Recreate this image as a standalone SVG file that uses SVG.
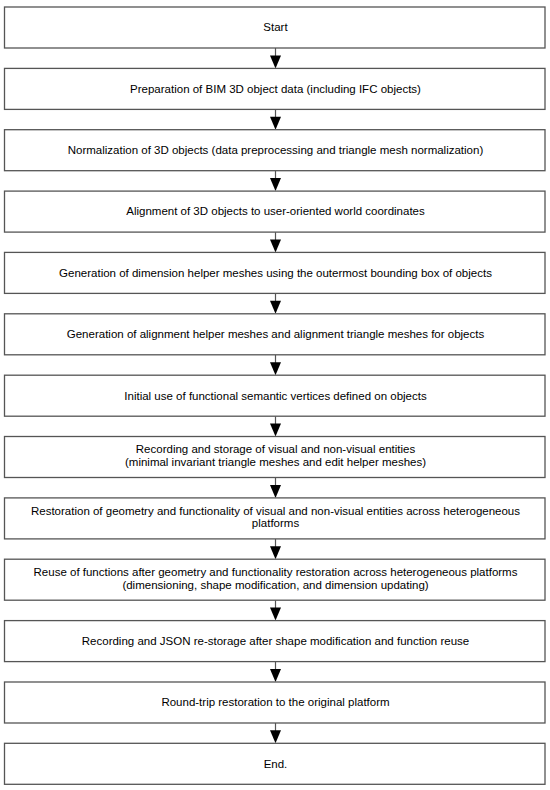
<svg xmlns="http://www.w3.org/2000/svg" width="550" height="790" viewBox="0 0 550 790">
<style>
.box{fill:#fff;stroke:#555;stroke-width:1.3}
.t{font-family:"Liberation Sans",Arial,sans-serif;font-size:11.5px;fill:#000;text-anchor:middle}
.ln{stroke:#555;stroke-width:1.2}
.ah{fill:#000}
</style>
<rect width="550" height="790" fill="#fff"/>
<g id="connectors">
<line class="ln" x1="275.5" y1="48" x2="275.5" y2="58"/><polygon class="ah" points="270,55.4 281,55.4 275.5,68.4"/>
<line class="ln" x1="275.5" y1="109.4" x2="275.5" y2="119"/><polygon class="ah" points="270,116.7 281,116.7 275.5,129.7"/>
<line class="ln" x1="275.5" y1="170.7" x2="275.5" y2="180"/><polygon class="ah" points="270,178.1 281,178.1 275.5,191.1"/>
<line class="ln" x1="275.5" y1="232.1" x2="275.5" y2="242"/><polygon class="ah" points="270,239.4 281,239.4 275.5,252.4"/>
<line class="ln" x1="275.5" y1="293.4" x2="275.5" y2="303"/><polygon class="ah" points="270,300.8 281,300.8 275.5,313.8"/>
<line class="ln" x1="275.5" y1="354.8" x2="275.5" y2="364"/><polygon class="ah" points="270,362.2 281,362.2 275.5,375.2"/>
<line class="ln" x1="275.5" y1="416.2" x2="275.5" y2="426"/><polygon class="ah" points="270,423.5 281,423.5 275.5,436.5"/>
<line class="ln" x1="275.5" y1="477.5" x2="275.5" y2="487"/><polygon class="ah" points="270,484.9 281,484.9 275.5,497.9"/>
<line class="ln" x1="275.5" y1="538.9" x2="275.5" y2="548"/><polygon class="ah" points="270,546.2 281,546.2 275.5,559.2"/>
<line class="ln" x1="275.5" y1="600.2" x2="275.5" y2="610"/><polygon class="ah" points="270,607.6 281,607.6 275.5,620.6"/>
<line class="ln" x1="275.5" y1="661.6" x2="275.5" y2="671"/><polygon class="ah" points="270,669 281,669 275.5,682"/>
<line class="ln" x1="275.5" y1="723" x2="275.5" y2="733"/><polygon class="ah" points="270,730.3 281,730.3 275.5,743.3"/>
</g>
<g id="n0"><rect class="box" x="4.5" y="7" width="540.5" height="41"/><text class="t" x="275.5" y="31.3">Start</text></g>
<g id="n1"><rect class="box" x="4.5" y="68.4" width="540.5" height="41"/><text class="t" x="275.5" y="92.7">Preparation of BIM 3D object data (including IFC objects)</text></g>
<g id="n2"><rect class="box" x="4.5" y="129.7" width="540.5" height="41"/><text class="t" x="275.5" y="154">Normalization of 3D objects (data preprocessing and triangle mesh normalization)</text></g>
<g id="n3"><rect class="box" x="4.5" y="191.1" width="540.5" height="41"/><text class="t" x="275.5" y="215.4">Alignment of 3D objects to user-oriented world coordinates</text></g>
<g id="n4"><rect class="box" x="4.5" y="252.4" width="540.5" height="41"/><text class="t" x="275.5" y="276.7">Generation of dimension helper meshes using the outermost bounding box of objects</text></g>
<g id="n5"><rect class="box" x="4.5" y="313.8" width="540.5" height="41"/><text class="t" x="275.5" y="338.1">Generation of alignment helper meshes and alignment triangle meshes for objects</text></g>
<g id="n6"><rect class="box" x="4.5" y="375.2" width="540.5" height="41"/><text class="t" x="275.5" y="399.5">Initial use of functional semantic vertices defined on objects</text></g>
<g id="n7"><rect class="box" x="4.5" y="436.5" width="540.5" height="41"/><text class="t" x="275.5" y="453.2">Recording and storage of visual and non-visual entities</text><text class="t" x="275.5" y="466">(minimal invariant triangle meshes and edit helper meshes)</text></g>
<g id="n8"><rect class="box" x="4.5" y="497.9" width="540.5" height="41"/><text class="t" x="275.5" y="514.6">Restoration of geometry and functionality of visual and non-visual entities across heterogeneous</text><text class="t" x="275.5" y="527.4">platforms</text></g>
<g id="n9"><rect class="box" x="4.5" y="559.2" width="540.5" height="41"/><text class="t" x="275.5" y="575.9">Reuse of functions after geometry and functionality restoration across heterogeneous platforms</text><text class="t" x="275.5" y="588.7">(dimensioning, shape modification, and dimension updating)</text></g>
<g id="n10"><rect class="box" x="4.5" y="620.6" width="540.5" height="41"/><text class="t" x="275.5" y="644.9">Recording and JSON re-storage after shape modification and function reuse</text></g>
<g id="n11"><rect class="box" x="4.5" y="682" width="540.5" height="41"/><text class="t" x="275.5" y="706.3">Round-trip restoration to the original platform</text></g>
<g id="n12"><rect class="box" x="4.5" y="743.3" width="540.5" height="41"/><text class="t" x="275.5" y="767.6">End.</text></g>
</svg>
